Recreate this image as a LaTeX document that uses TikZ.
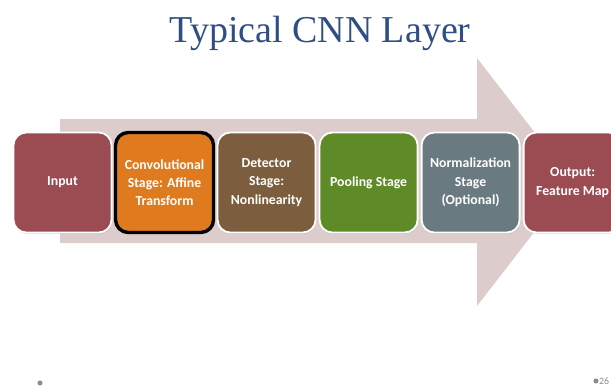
\documentclass[tikz,border=0pt]{standalone}
\usepackage{fontspec}
\setmainfont{Liberation Serif}
\newfontfamily\boxfont{Carlito}
\usetikzlibrary{positioning,shadows}

\definecolor{titleblue}{HTML}{2F4E85}
\definecolor{arrowpink}{HTML}{DCCCCC}
\definecolor{inred}{HTML}{9B4B52}
\definecolor{convorange}{HTML}{E07A1E}
\definecolor{detbrown}{HTML}{7C5E3E}
\definecolor{poolgreen}{HTML}{5E8A27}
\definecolor{normgray}{HTML}{6A7A81}
\definecolor{dotgray}{HTML}{8C8C8C}

\tikzset{
  stage/.style={draw=white, line width=1.3pt, rounded corners=0.32cm,
    minimum width=2.45cm, minimum height=2.5cm, inner sep=1pt, outer sep=0pt,
    align=center, text=white, font=\boxfont\bfseries\fontsize{9.8}{13}\selectfont,
    drop shadow={opacity=0.3, shadow xshift=0.3pt, shadow yshift=-1pt}},
}

\begin{document}
\begin{tikzpicture}[x=0.025cm, y=-0.025cm]

\clip (0,0) rectangle (611,390);
\useasboundingbox (0,0) rectangle (611,390);

% draw title
\node (title) at (320,33) [text=titleblue, font=\fontsize{27}{32}\selectfont] {Typical CNN Layer};

% draw big arrow
\fill[arrowpink] (60,119) -- (477,119) -- (477,58) -- (573,182) -- (477,306) -- (477,243) -- (60,243) -- cycle;

% draw stages
\node (input) at (62.5,182.5) [stage, fill=inred] {Input};
\node (conv) [stage, fill=convorange, draw=black, line width=2.4pt, right=0.1cm of input] {Convolutional\\Stage: Affine\\Transform};
\node (detect) [stage, fill=detbrown, right=0.1cm of conv] {Detector\\Stage:\\Nonlinearity};
\node (pool) [stage, fill=poolgreen, right=0.1cm of detect] {Pooling Stage};
\node (norm) [stage, fill=normgray, right=0.1cm of pool] {Normalization\\Stage\\(Optional)};
\node (output) [stage, fill=inred, right=0.1cm of norm] {Output:\\Feature Map};

% draw footer
\fill[dotgray] (40,383) circle[radius=1.8pt];
\fill[dotgray] (596,381) circle[radius=1.8pt];
\node (page) at (604,381) [text=dotgray, font=\boxfont\fontsize{7}{8}\selectfont] {26};

\end{tikzpicture}
\end{document}
